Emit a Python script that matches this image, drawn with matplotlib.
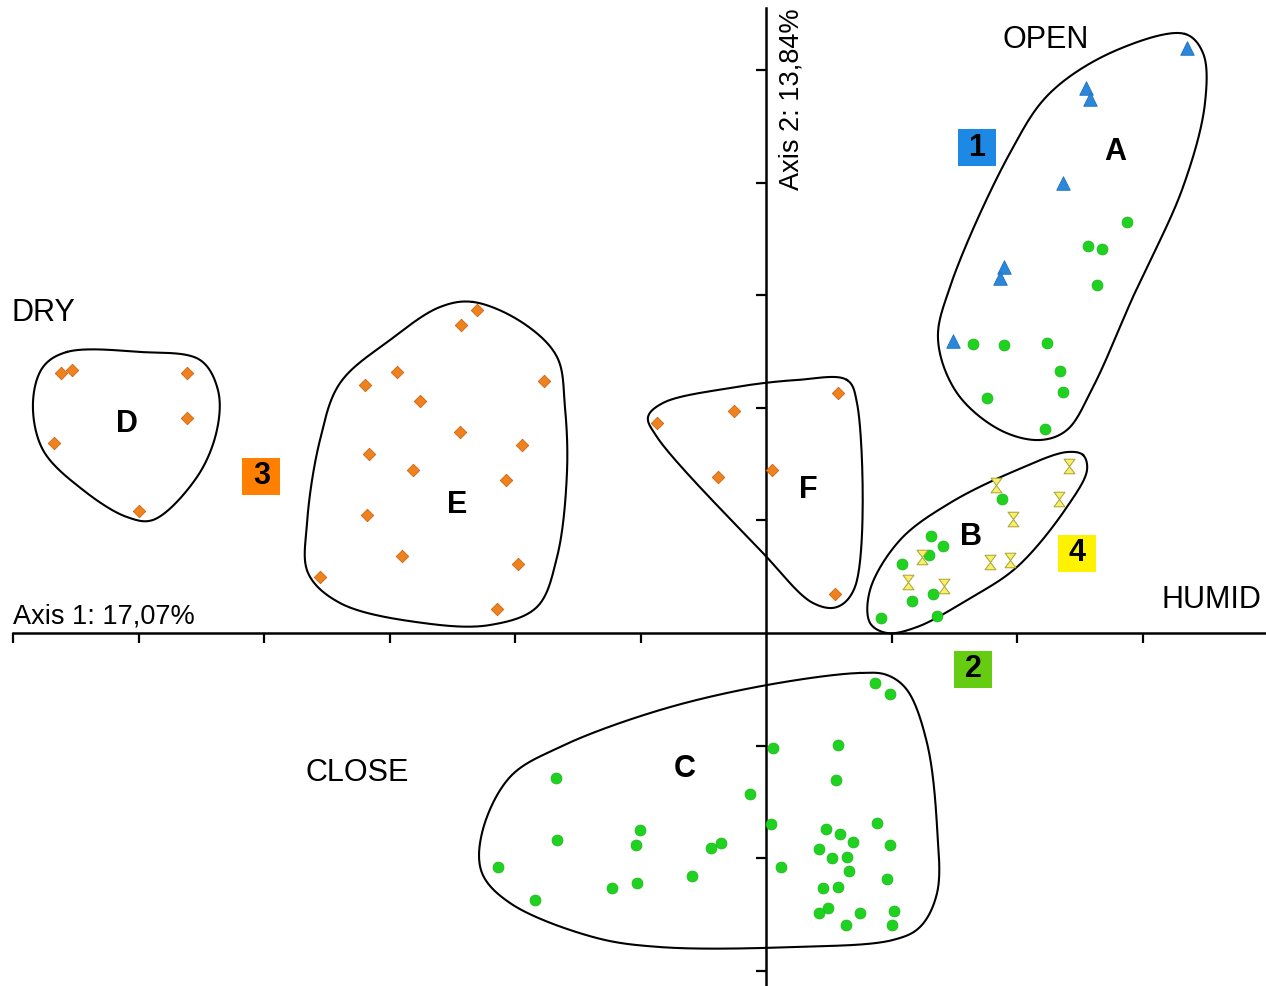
import numpy as np
import matplotlib
matplotlib.use("Agg")
import matplotlib.pyplot as plt
from matplotlib.path import Path
from matplotlib.patches import Rectangle

plt.rcParams['font.family'] = ['Liberation Sans', 'DejaVu Sans']

# ---------------- data (axis units) ----------------
# Series 1: blue triangles (group A)
s1_x = [3.355, 2.550, 2.582, 2.367, 1.896, 1.865, 1.490]
s1_y = [5.195, 4.840, 4.742, 3.996, 3.250, 3.153, 2.593]

# Series 2: green dots (groups A, B, C)
s2A_x = [2.876, 2.566, 2.677, 2.637, 1.649, 1.896, 2.239, 2.343, 2.367, 1.761, 2.223]
s2A_y = [3.650, 3.437, 3.410, 3.091, 2.567, 2.558, 2.575, 2.327, 2.140, 2.087, 1.812]
s2B_x = [1.880, 1.315, 1.410, 1.299, 1.084, 1.331, 1.163, 1.363, 0.916]
s2B_y = [1.190, 0.861, 0.773, 0.693, 0.613, 0.346, 0.284, 0.151, 0.133]
s2C_x = [-1.673, -1.665, -2.135, -1.841, -1.004, -1.036, -1.227, -1.028, -0.590,
         -0.438, -0.359, -0.127, 0.056, 0.040, 0.120, 0.869, 0.988, 0.574, 0.558,
         0.884, 0.478, 0.590, 0.693, 0.988, 0.422, 0.526, 0.645, 0.661, 0.964,
         0.454, 0.574, 0.494, 0.422, 0.749, 1.020, 0.637, 1.004]
s2C_y = [-1.288, -1.838, -2.078, -2.371, -1.750, -1.883, -2.265, -2.220, -2.158,
         -1.909, -1.865, -1.430, -1.021, -1.696, -2.078, -0.444, -0.542, -0.995, -1.306,
         -1.687, -1.741, -1.785, -1.856, -1.883, -1.918, -1.998, -1.989, -2.114, -2.185,
         -2.265, -2.256, -2.442, -2.487, -2.487, -2.469, -2.593, -2.593]

# Series 3: orange diamonds (groups D, E, F)
s3D_x = [-5.62, -5.53, -4.61, -4.61, -5.67, -5.00]
s3D_y = [2.31, 2.34, 2.31, 1.91, 1.69, 1.08]
s3E_x = [-2.303, -2.430, -2.940, -3.195, -1.769, -2.757, -2.438, -3.163, -2.813,
         -1.944, -2.072, -3.179, -2.900, -1.976, -3.554, -2.143]
s3E_y = [2.869, 2.735, 2.318, 2.202, 2.238, 2.060, 1.785, 1.590, 1.448,
         1.670, 1.359, 1.048, 0.684, 0.613, 0.497, 0.213]
s3F_x = [0.574, -0.255, -0.869, 0.048, -0.382, 0.550]
s3F_y = [2.131, 1.972, 1.865, 1.448, 1.385, 0.346]

# Series 4: yellow hourglasses (group B)
s4_x = [2.414, 1.833, 2.335, 1.968, 1.243, 1.785, 1.944, 1.131, 1.418]
s4_y = [1.483, 1.314, 1.190, 1.012, 0.675, 0.631, 0.648, 0.453, 0.417]

# Group outlines (axis units)
hullA_x = [3.339, 3.482, 3.498, 3.323, 2.924, 2.606, 2.398, 2.183, 1.865, 1.522, 1.371, 1.466, 1.944, 2.263, 2.797]
hullA_y = [5.320, 5.151, 4.707, 3.961, 2.984, 2.185, 1.803, 1.714, 1.803, 2.131, 2.602, 3.073, 4.263, 4.796, 5.178]
hullB_x = [2.526, 2.558, 2.398, 2.000, 1.602, 1.203, 0.964, 0.829, 0.829, 1.068, 1.466, 2.000, 2.398]
hullB_y = [1.581, 1.448, 1.119, 0.586, 0.293, 0.053, 0.000, 0.089, 0.382, 0.826, 1.155, 1.448, 1.607]
hullC_x = [0.749, 0.964, 1.124, 1.283, 1.363, 1.363, 1.227, 1.012, 0.215, -0.845, -1.378,
           -2.040, -2.263, -2.263, -2.040, -1.641, -0.845, 0.008]
hullC_y = [-0.355, -0.373, -0.506, -0.977, -1.723, -2.309, -2.611, -2.726, -2.789, -2.789, -2.700,
           -2.398, -2.131, -1.776, -1.279, -1.012, -0.684, -0.462]
hullD_x = [-5.570, -4.988, -4.510, -4.367, -4.375, -4.534, -4.884, -5.092, -5.442, -5.761, -5.841, -5.761]
hullD_y = [2.496, 2.496, 2.425, 2.158, 1.803, 1.385, 1.004, 1.030, 1.270, 1.625, 2.043, 2.362]
hullE_x = [-2.335, -1.936, -1.665, -1.602, -1.586, -1.665, -1.825, -2.199, -2.733, -3.394,
           -3.649, -3.657, -3.554, -3.394, -2.996, -2.598]
hullE_y = [2.940, 2.753, 2.451, 2.007, 1.421, 0.675, 0.231, 0.071, 0.089, 0.266,
           0.533, 0.977, 1.714, 2.220, 2.602, 2.895]
hullF_x = [0.645, 0.725, 0.709, 0.566, 0.375, -0.024, -0.869, -0.940, -0.821, -0.287, 0.247]
hullF_y = [2.247, 2.043, 0.409, 0.231, 0.266, 0.710, 1.741, 1.918, 2.043, 2.176, 2.247]

group_names = ['A', 'B', 'C', 'D', 'E', 'F']
group_label_x = [2.78, 1.63, -0.65, -5.09, -2.46, 0.34]
group_label_y = [4.27, 0.85, -1.21, 1.86, 1.14, 1.27]

series_names = ['1', '2', '3', '4']
series_box_x = [1.68, 1.65, -4.02, 2.48]
series_box_y = [4.31, -0.32, 1.39, 0.71]
series_colors = ['#1E88E5', '#66CC11', '#FF8000', '#FFF200']

x_ticks = [-6, -5, -4, -3, -2, -1, 1, 2, 3]
y_ticks = [-3, -2, -1, 1, 2, 3, 4, 5]

# ---------------- helpers ----------------
def smooth_closed(xs, ys, n=40, sx=125.5, sy=112.6):
    P = np.column_stack([np.asarray(xs) * sx, np.asarray(ys) * sy])
    N = len(P)
    out = []
    for i in range(N):
        p0, p1, p2, p3 = P[(i - 1) % N], P[i], P[(i + 1) % N], P[(i + 2) % N]
        t0 = 0.0
        t1 = t0 + np.linalg.norm(p1 - p0) ** 0.5 + 1e-9
        t2 = t1 + np.linalg.norm(p2 - p1) ** 0.5 + 1e-9
        t3 = t2 + np.linalg.norm(p3 - p2) ** 0.5 + 1e-9
        t = np.linspace(t1, t2, n, endpoint=False)[:, None]
        A1 = (t1 - t) / (t1 - t0) * p0 + (t - t0) / (t1 - t0) * p1
        A2 = (t2 - t) / (t2 - t1) * p1 + (t - t1) / (t2 - t1) * p2
        A3 = (t3 - t) / (t3 - t2) * p2 + (t - t2) / (t3 - t2) * p3
        B1 = (t2 - t) / (t2 - t0) * A1 + (t - t0) / (t2 - t0) * A2
        B2 = (t3 - t) / (t3 - t1) * A2 + (t - t1) / (t3 - t1) * A3
        C = (t2 - t) / (t2 - t1) * B1 + (t - t1) / (t2 - t1) * B2
        out.append(C)
    C = np.vstack(out + [out[0][:1]])
    return C[:, 0] / sx, C[:, 1] / sy

hourglass = Path([(-0.75, 1), (0.75, 1), (0, 0), (-0.75, 1),
                  (-0.75, -1), (0.75, -1), (0, 0), (-0.75, -1)],
                 [Path.MOVETO, Path.LINETO, Path.LINETO, Path.CLOSEPOLY,
                  Path.MOVETO, Path.LINETO, Path.LINETO, Path.CLOSEPOLY])

# ---------------- figure ----------------
W, H = 1266, 986
fig = plt.figure(figsize=(W / 100, H / 100), dpi=100)
ax = fig.add_axes([0, 0, 1, 1])
ax.set_xlim(-766 / 125.5, 500 / 125.5)
ax.set_ylim(-353 / 112.6, 633 / 112.6)

# axes through origin
for side in ['top', 'right']:
    ax.spines[side].set_visible(False)
ax.spines['left'].set_position(('data', 0))
ax.spines['bottom'].set_position(('data', 0))
ax.spines['left'].set_bounds(-3.126, 5.55)
ax.spines['bottom'].set_bounds(-6.0, 3.984)
for sp in ['left', 'bottom']:
    ax.spines[sp].set_linewidth(1.8)
    ax.spines[sp].set_zorder(1)
ax.set_xticks(x_ticks)
ax.set_yticks(y_ticks)
ax.tick_params(axis='both', direction='out', length=7, width=1.6,
               labelbottom=False, labelleft=False)

# outlines
for hx, hy in [(hullA_x, hullA_y), (hullB_x, hullB_y), (hullC_x, hullC_y),
               (hullD_x, hullD_y), (hullE_x, hullE_y), (hullF_x, hullF_y)]:
    sx_, sy_ = smooth_closed(hx, hy)
    ax.plot(sx_, sy_, color='black', lw=1.5, zorder=2)

# points
green_x = s2A_x + s2B_x + s2C_x
green_y = s2A_y + s2B_y + s2C_y
orange_x = s3D_x + s3E_x + s3F_x
orange_y = s3D_y + s3E_y + s3F_y
ax.scatter(green_x, green_y, s=62, marker='o', color='#1FD21F', edgecolors='#19B819',
           linewidths=0.5, zorder=4)
ax.scatter(orange_x, orange_y, s=40, marker='D', color='#F0821E', edgecolors='#C86414',
           linewidths=0.6, zorder=4)
ax.scatter(s1_x, s1_y, s=95, marker='^', color='#2B87DA', edgecolors='#1E6EBE',
           linewidths=0.6, zorder=4)
ax.scatter(s4_x, s4_y, s=110, marker=hourglass, color='#F6F06A', edgecolors='#A8A230',
           linewidths=0.7, zorder=4)

# group letters
for name, gx, gy in zip(group_names, group_label_x, group_label_y):
    ax.text(gx, gy, name, fontsize=22, fontweight='bold', ha='center', va='center', zorder=5)

# numbered boxes
bw, bh = 38 / 125.5, 37 / 112.6
for name, bx, by, col in zip(series_names, series_box_x, series_box_y, series_colors):
    ax.add_patch(Rectangle((bx - bw / 2, by - bh / 2), bw, bh, facecolor=col,
                           edgecolor='none', zorder=5))
    ax.text(bx, by, name, fontsize=22, fontweight='bold', ha='center', va='center', zorder=6)

# gradient words
ax.text(-6.008, 2.842, 'DRY', fontsize=22, ha='left', va='center')
ax.text(2.231, 5.266, 'OPEN', fontsize=22, ha='center', va='center')
ax.text(3.546, 0.293, 'HUMID', fontsize=22, ha='center', va='center')
ax.text(-3.259, -1.243, 'CLOSE', fontsize=22, ha='center', va='center')

# axis labels
ax.text(-6.0, 0.03, 'Axis 1: 17,07%', fontsize=19.5, ha='left', va='bottom')
ax.text(0.2, 5.55, 'Axis 2: 13,84%', fontsize=19.5, ha='center', va='top', rotation=90)

fig.savefig('out.png', dpi=100)
